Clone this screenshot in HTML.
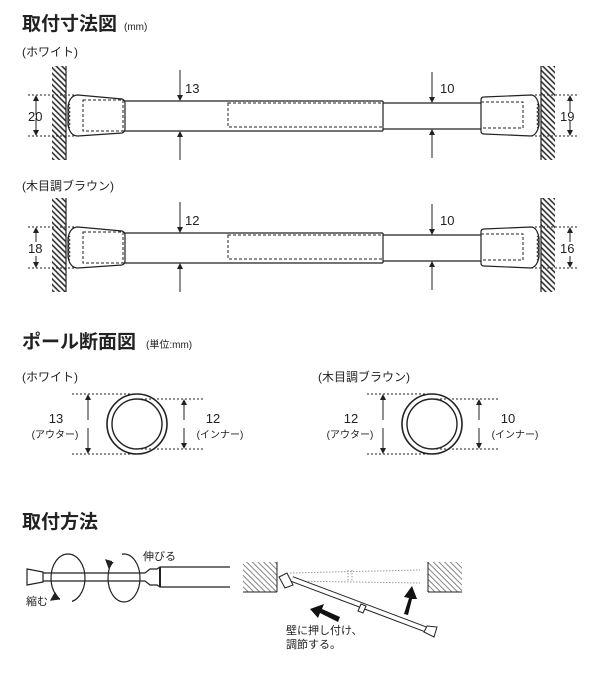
<!DOCTYPE html>
<html><head><meta charset="utf-8"><style>
html,body{margin:0;padding:0;background:#fff;}
svg{display:block;font-family:"Liberation Sans","Noto Sans CJK JP",sans-serif;}
.t{font-size:19px;font-weight:bold;}
.s{font-size:12px;}
.xs{font-size:10px;}
.n{font-size:13px;}
</style></head><body>
<svg width="600" height="700" viewBox="0 0 600 700" xmlns="http://www.w3.org/2000/svg">
<defs>
<pattern id="h" width="4" height="4" patternUnits="userSpaceOnUse" patternTransform="rotate(-45)">
<line x1="1" y1="0" x2="1" y2="4" stroke="#222" stroke-width="1.5"/></pattern>
<pattern id="h2" width="4" height="4" patternUnits="userSpaceOnUse" patternTransform="rotate(-45)">
<line x1="1" y1="0" x2="1" y2="4" stroke="#777" stroke-width="0.9"/></pattern>
<marker id="a" markerWidth="6" markerHeight="6" refX="5" refY="3" orient="auto" markerUnits="userSpaceOnUse"><path d="M0,0 L6,3 L0,6z" fill="#222"/></marker>
</defs>
<g fill="#222">
<text x="22" y="30" class="t">取付寸法図</text><text x="124" y="30" class="xs">(mm)</text>
<text x="22" y="56" class="s">(ホワイト)</text>
<text x="22" y="190" class="s">(木目調ブラウン)</text>
<text x="22" y="348" class="t">ポール断面図</text><text x="146" y="348" class="xs">(単位:mm)</text>
<text x="22" y="381" class="s">(ホワイト)</text>
<text x="318" y="381" class="s">(木目調ブラウン)</text>
<text x="22" y="528" class="t">取付方法</text>
</g>

<g id="d1" stroke="#222" fill="none" stroke-width="1.2">
<rect x="52" y="66" width="14" height="94" fill="url(#h)" stroke="none"/><line x1="66" y1="66" x2="66" y2="160"/>
<rect x="541" y="66" width="14" height="94" fill="url(#h)" stroke="none"/><line x1="541" y1="66" x2="541" y2="160"/>
<path d="M78,95 L122,99 Q125,100 125,103 L125,129 Q125,132 122,133 L78,136 Q70,136 68,125 L68,106 Q70,95 78,95z" fill="#fff"/>
<path d="M70,104 q-3,2 0,4 q-3,2 0,4 q-3,2 0,4 q-3,2 0,4 q-3,2 0,4 q-3,2 0,4" stroke-width="0.9"/>
<rect x="83" y="100" width="40" height="31" stroke-dasharray="3,2" stroke-width="1"/>
<line x1="125" y1="101" x2="383" y2="101"/><line x1="125" y1="131" x2="383" y2="131"/>
<line x1="383" y1="101" x2="383" y2="131"/>
<rect x="228" y="103" width="155" height="24" stroke-dasharray="3,2" stroke-width="1"/>
<line x1="383" y1="103" x2="481" y2="103"/><line x1="383" y1="129" x2="481" y2="129"/>
<path d="M531,95 L484,97 Q481,97 481,100 L481,131 Q481,134 484,134 L531,136 Q537,135 539,125 L539,106 Q537,95 531,95z" fill="#fff"/>
<path d="M537,104 q3,2 0,4 q3,2 0,4 q3,2 0,4 q3,2 0,4 q3,2 0,4 q3,2 0,4" stroke-width="0.9"/>
<rect x="481" y="102" width="42" height="26" stroke-dasharray="3,2" stroke-width="1"/>
<g stroke-dasharray="2,2" stroke-width="1"><line x1="28" y1="95" x2="78" y2="95"/><line x1="28" y1="136" x2="78" y2="136"/>
<line x1="531" y1="95" x2="578" y2="95"/><line x1="531" y1="136" x2="578" y2="136"/></g>
<line x1="36" y1="115" x2="36" y2="96" marker-end="url(#a)" stroke-width="1"/><line x1="36" y1="118" x2="36" y2="135" marker-end="url(#a)" stroke-width="1"/>
<line x1="570" y1="112" x2="570" y2="96" marker-end="url(#a)" stroke-width="1"/><line x1="570" y1="120" x2="570" y2="135" marker-end="url(#a)" stroke-width="1"/>
<line x1="180" y1="70" x2="180" y2="100" marker-end="url(#a)" stroke-width="1"/><line x1="180" y1="160" x2="180" y2="132" marker-end="url(#a)" stroke-width="1"/>
<line x1="432" y1="72" x2="432" y2="102" marker-end="url(#a)" stroke-width="1"/><line x1="432" y1="158" x2="432" y2="130" marker-end="url(#a)" stroke-width="1"/>
</g>
<g fill="#222"><text x="28" y="121" class="n">20</text><text x="560" y="121" class="n">19</text><text x="185" y="93" class="n">13</text><text x="440" y="93" class="n">10</text></g>

<use href="#d1" transform="translate(0,132)"/>
<g fill="#fff"><rect x="20" y="242" width="30" height="14"/><rect x="555" y="242" width="30" height="14"/><rect x="184" y="213" width="20" height="14"/><rect x="438" y="213" width="20" height="14"/></g>
<g fill="#222"><text x="28" y="253" class="n">18</text><text x="560" y="253" class="n">16</text><text x="185" y="225" class="n">12</text><text x="440" y="225" class="n">10</text></g>

<g id="c1" stroke="#222" fill="none">
<circle cx="137" cy="424" r="30" stroke-width="1.6"/><circle cx="137" cy="424" r="25" stroke-width="1.4"/>
<g stroke-dasharray="2,2" stroke-width="1"><line x1="72" y1="394" x2="137" y2="394"/><line x1="72" y1="454" x2="137" y2="454"/>
<line x1="137" y1="399" x2="203" y2="399"/><line x1="137" y1="449" x2="203" y2="449"/></g>
<line x1="88" y1="420" x2="88" y2="395" marker-end="url(#a)" stroke-width="1"/><line x1="88" y1="428" x2="88" y2="453" marker-end="url(#a)" stroke-width="1"/>
<line x1="184" y1="420" x2="184" y2="400" marker-end="url(#a)" stroke-width="1"/><line x1="184" y1="428" x2="184" y2="448" marker-end="url(#a)" stroke-width="1"/>
</g>
<use href="#c1" transform="translate(295,0)"/>
<g fill="#222" text-anchor="middle">
<text x="56" y="423" class="n">13</text><text x="55" y="438" class="xs">(アウター)</text>
<text x="213" y="423" class="n">12</text><text x="220" y="438" class="xs">(インナー)</text>
<text x="351" y="423" class="n">12</text><text x="350" y="438" class="xs">(アウター)</text>
<text x="508" y="423" class="n">10</text><text x="515" y="438" class="xs">(インナー)</text>
</g>

<g stroke="#222" fill="none" stroke-width="1.2">
<path d="M27,569 L43,572 L43,582 L27,585z" fill="#fff"/>
<line x1="43" y1="573" x2="145" y2="573"/><line x1="43" y1="581" x2="145" y2="581"/>
<path d="M145,573 L150,569 L157,569 L160,567 L230,567 M145,581 L150,585 L157,585 L160,587 L230,587"/>
<line x1="160" y1="567" x2="160" y2="587" stroke-width="2"/>
<ellipse cx="68" cy="578" rx="17" ry="24"/><ellipse cx="124" cy="578" rx="16" ry="24"/>
<path d="M55,593 l-4,7 l8,-1z" fill="#222"/><path d="M109,568 l-3,-8 l7,2z" fill="#222"/>
</g>
<g fill="#fff"><rect x="60" y="597" width="12" height="9"/><rect x="112" y="553" width="10" height="9"/></g>
<g fill="#222" font-size="11"><text x="26" y="605">縮む</text><text x="143" y="560">伸びる</text></g>

<g stroke="#222" fill="none" stroke-width="1">
<rect x="243" y="562" width="34" height="30" fill="url(#h2)" stroke="none"/><line x1="277" y1="562" x2="277" y2="592"/><line x1="243" y1="592" x2="277" y2="592"/>
<rect x="428" y="562" width="34" height="30" fill="url(#h2)" stroke="none"/><line x1="428" y1="562" x2="428" y2="592"/><line x1="428" y1="592" x2="462" y2="592"/>
<g stroke="#999" stroke-dasharray="1.5,1.5"><line x1="290" y1="573" x2="420" y2="570"/><line x1="290" y1="581" x2="420" y2="583"/><line x1="348" y1="570" x2="348" y2="582"/><line x1="352" y1="570" x2="352" y2="582"/></g>
<path d="M279,577 L287,573 L293,585 L285,588z" fill="#fff"/>
<line x1="292" y1="579" x2="430" y2="631" stroke-width="6" stroke="#222"/>
<line x1="292" y1="579" x2="430" y2="631" stroke-width="4" stroke="#fff"/>
<path d="M361,604 l-3,7 l5,2 l3,-7z" fill="#fff"/>
<path d="M427,626 L437,627 L434,637 L424,632z" fill="#fff"/>
</g>
<path d="M340,617 L322,609 L324,604 L310,609 L318,618 L320,613 L338,622z" fill="#111"/>
<path d="M404,614 L409,598 L404,597 L412,586 L417,599 L412,599 L408,615z" fill="#111"/>
<g fill="#222" font-size="11"><text x="286" y="634">壁に押し付け、</text><text x="286" y="648">調節する。</text></g>
</svg>
</body></html>
